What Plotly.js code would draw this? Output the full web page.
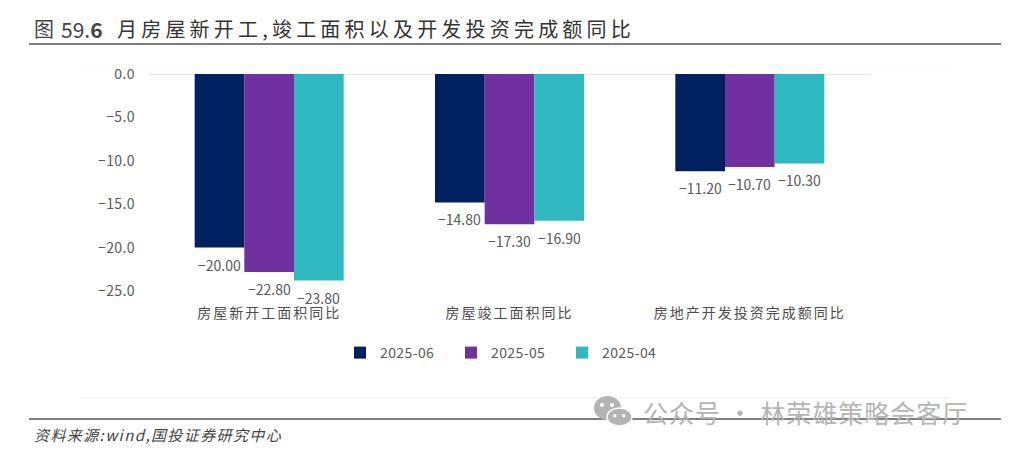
<!DOCTYPE html>
<html><head><meta charset="utf-8">
<script src="https://cdn.plot.ly/plotly-3.0.1.min.js"></script>
<style>
html,body{margin:0;padding:0;background:#fff;overflow:hidden}
.xtick text{letter-spacing:2px}
.annotation-text{white-space:pre}
.legendbar path{transform:translate(33px,0px) scale(.6)}
.ytick text,.legendtext{letter-spacing:.4px}
</style></head><body><div id="c" style="width:1024px;height:453px"></div>
<script>
const categories = ['房屋新开工面积同比','房屋竣工面积同比','房地产开发投资完成额同比'];
const seriesNames = ['2025-06','2025-05','2025-04'];
const jun = [-20.0,-14.8,-11.2];
const may = [-22.8,-17.3,-10.7];
const apr = [-23.8,-16.9,-10.3];
const seriesColors = ['#002060','#7030A0','#2FB8C0'];
const all = [jun,may,apr];
const W=1024,H=453,L=149,R=870,T=74,B=291;
const px=x=>(x-L)/(R-L), py=y=(y)=>(B-y)/(B-T);
const F='"Noto Sans CJK SC","Noto Sans",sans-serif';
const traces=all.map((v,i)=>({type:'bar',name:seriesNames[i],x:categories,y:v,marker:{color:seriesColors[i]},hoverinfo:'none'}));
const ann=[];
const barW=0.2067;
all.forEach((v,i)=>v.forEach((val,j)=>ann.push({xref:'x',yref:'y',x:j+(i-1)*barW,y:val,yshift:-17,yanchor:'middle',xanchor:'center',showarrow:false,
  text:val.toFixed(2).replace('-','−'),font:{family:F,size:14,color:'#595959'}})));
const txt=(x,y,text,size,color,extra={})=>Object.assign({xref:'paper',yref:'paper',x:px(x),y:py(y),text,showarrow:false,xanchor:'left',yanchor:'middle',font:{family:F,size,color}},extra);
ann.push(txt(32,29,'图',20,'#444'));
ann.push(txt(59,29,'59.<b>6</b>',21,'#444'));
ann.push(txt(115,29,'<span style="letter-spacing:4.2px">月房屋新开工,竣工面积以及开发投资完成额同比</span>',20,'#333'));
ann.push(txt(32,434,'<i><span style="letter-spacing:1.4px">资料来源:wind,国投证券研究中心</span></i>',15,'#444'));
ann.push(txt(641,412,'<span style="letter-spacing:1px">公众号 · 林荣雄策略会客厅</span>',25,'#b4b4b4'));
const hl=(x0,x1,y,color,width)=>({type:'line',xref:'paper',yref:'paper',x0:px(x0),x1:px(x1),y0:py(y),y1:py(y),line:{color,width},layer:'below'});
const circ=(x0,y0,x1,y1,fill,line)=>({type:'circle',xref:'paper',yref:'paper',x0:px(x0),x1:px(x1),y0:py(y0),y1:py(y1),fillcolor:fill,line:line||{width:0},layer:'above'});
const shapes=[
 hl(80,950,65,'#f8f8f8',1),hl(80,950,398,'#ededed',1),
 hl(29,1001,44,'#7f7f7f',2),hl(29,1001,419,'#555555',1.5),
 circ(594,396,621,420,'#b4b4b4'),circ(607,408,632,426,'#b4b4b4',{color:'#fff',width:1.5}),
 circ(600,403,604,407,'#fff'),circ(610,403,614,407,'#fff'),circ(613,414,616.5,417.5,'#fff'),circ(622,414,625.5,417.5,'#fff')
];
Plotly.newPlot('c',traces,{
 width:W,height:H,paper_bgcolor:'#fff',plot_bgcolor:'#fff',
 margin:{l:L,r:W-R,t:T,b:H-B,pad:0},
 barmode:'group',bargap:0.38,bargroupgap:0,
 font:{family:F,color:'#595959'},
 xaxis:{type:'category',showline:false,showgrid:false,zeroline:false,ticks:'',ticklabelstandoff:12,tickfont:{family:F,size:14,color:'#4d4d4d'},fixedrange:true},
 yaxis:{range:[-25,0],dtick:5,tick0:0,tickformat:'.1f',showgrid:false,showline:false,zeroline:true,zerolinecolor:'#e6e6e6',zerolinewidth:1,ticks:'',ticklabelstandoff:13,tickfont:{family:F,size:14,color:'#595959'},fixedrange:true},
 showlegend:true,
 legend:{orientation:'h',x:px(340),xanchor:'left',y:py(353),yanchor:'middle',font:{family:F,size:14,color:'#595959'},entrywidthmode:'pixels',entrywidth:66,traceorder:'normal',bgcolor:'rgba(0,0,0,0)'},
 annotations:ann,shapes
},{staticPlot:true,displayModeBar:false});
</script></body></html>
